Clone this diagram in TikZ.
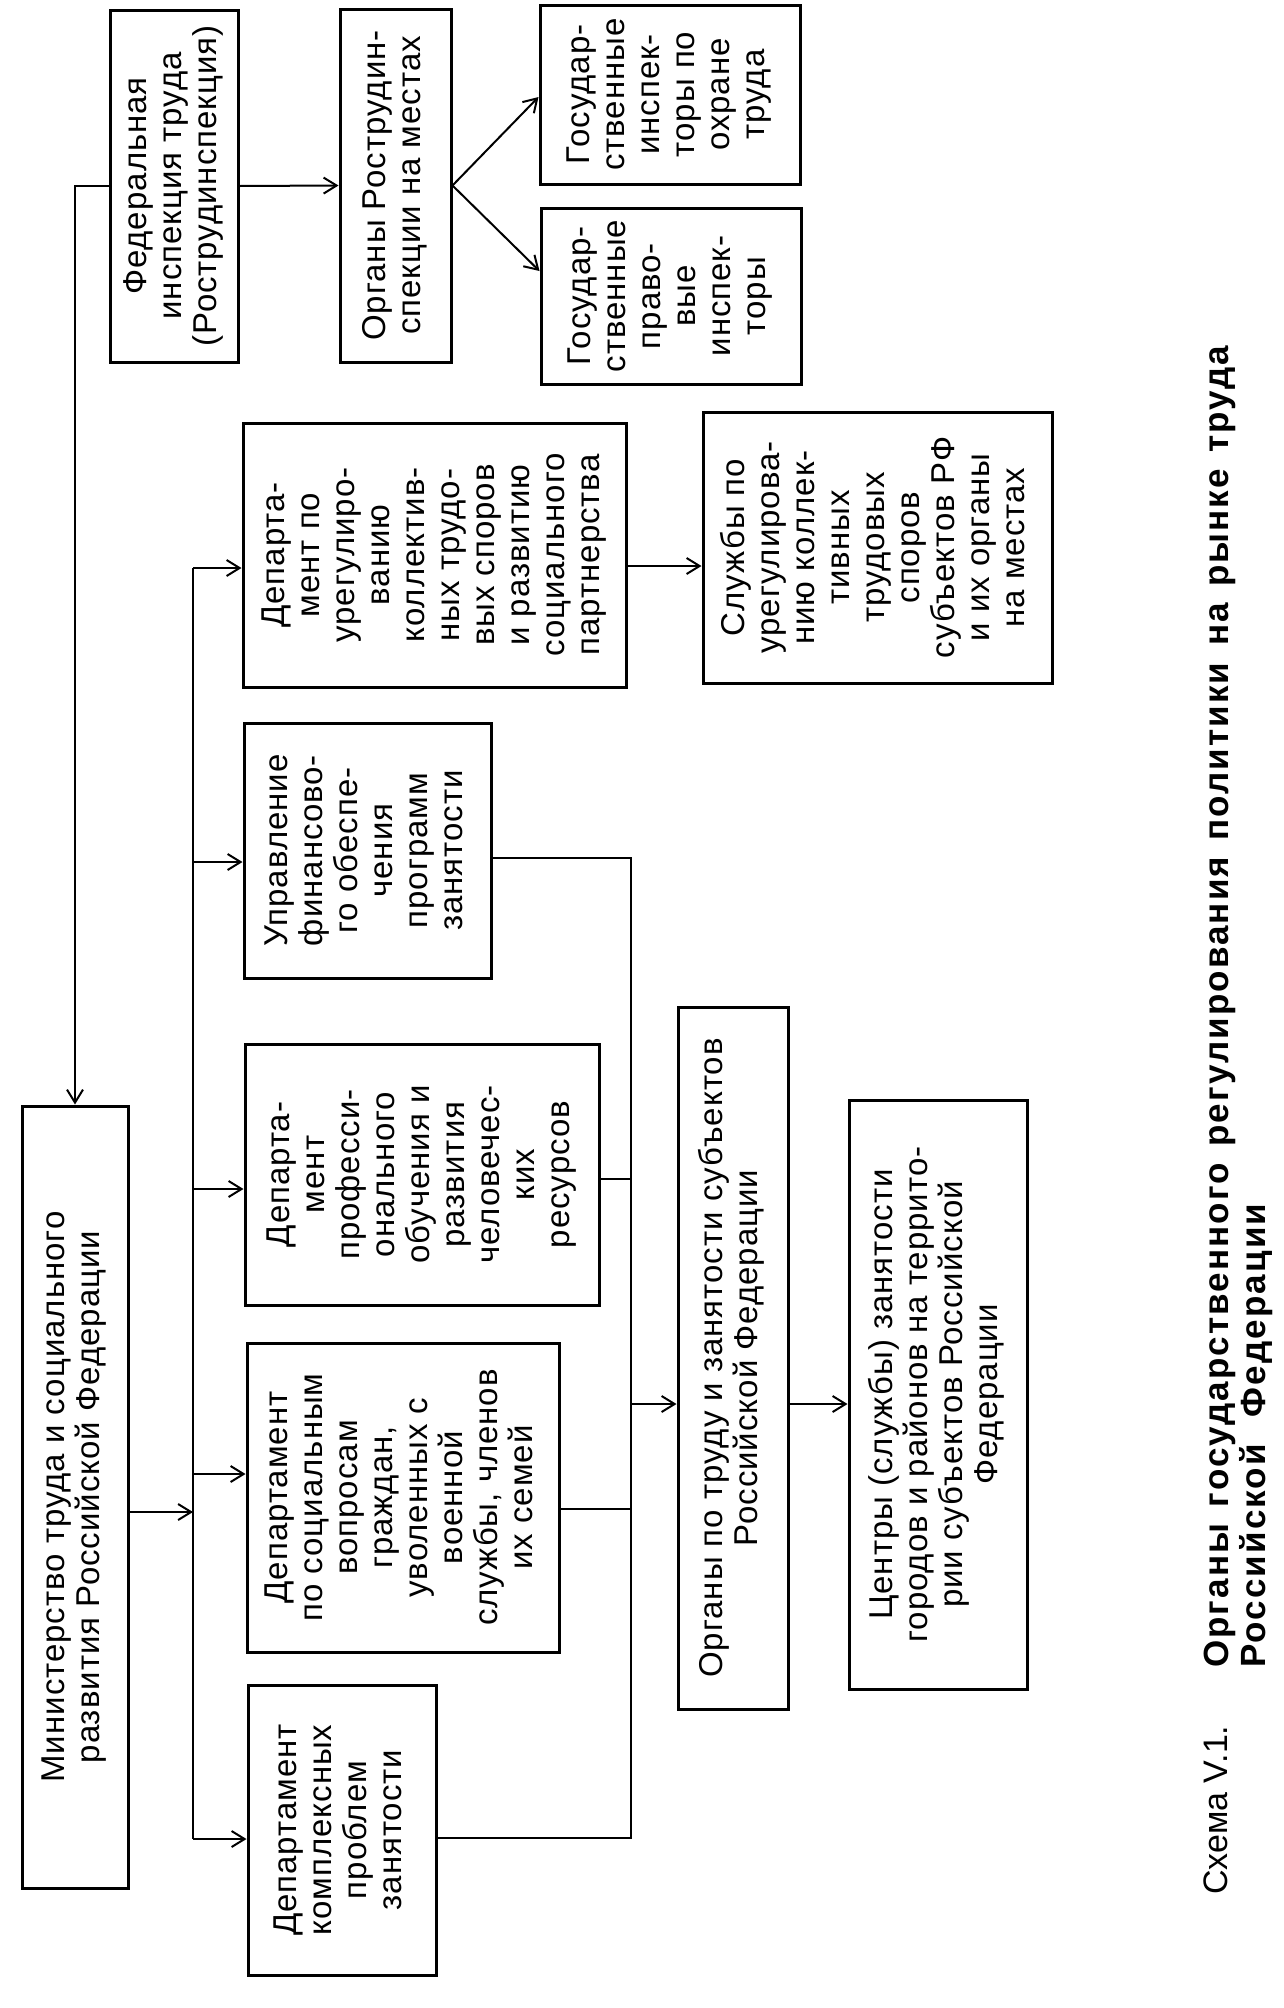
\documentclass[tikz,border=0pt]{standalone}
\usepackage{fontspec}
\setmainfont{Liberation Sans}
\usetikzlibrary{arrows.meta}
\newcommand{\rtxt}[1]{\rotatebox{90}{\begin{tabular}{@{}c@{}}#1\end{tabular}}}
\begin{document}
\begin{tikzpicture}[x=1pt,y=-1pt,
  box/.style={draw, line width=3pt, inner sep=0pt, font=\fontsize{33}{35}\selectfont\addfontfeatures{LetterSpace=3}},
  conn/.style={line width=2pt},
  arr/.style={conn, -{Straight Barb[length=13pt,width=16pt]}},
  ttl/.style={rotate=90, anchor=base west, inner sep=0pt},
  bold/.style={font=\bfseries\fontsize{35}{37}\selectfont\addfontfeatures{LetterSpace=6}}]
\useasboundingbox (0,0) rectangle (1284,2008);
\fill[white] (0,0) rectangle (1284,2008);
% top row
\node[box, minimum width=128pt, minimum height=352pt] (fed) at (174,186)
  {\rtxt{Федеральная\\инспекция труда\\(Рострудинспекция)}};
\node[box, minimum width=111pt, minimum height=353pt] (orgR) at (395.5,185.5)
  {\rtxt{Органы Рострудин-\\спекции на местах}};
\node[box, minimum width=260pt, minimum height=179pt] (inspT) at (670,94.5)
  {\rtxt{Государ-\\ственные\\инспек-\\торы по\\охране\\труда}};
\node[box, minimum width=260pt, minimum height=176pt] (inspP) at (671,296)
  {\rtxt{Государ-\\ственные\\право-\\вые\\инспек-\\торы}};
% ministry
\node[box, minimum width=106pt, minimum height=782pt] (min) at (75,1497)
  {\rtxt{Министерство труда и социального\\развития Российской Федерации}};
% departments
\node[box, minimum width=383pt, minimum height=264pt] (reg) at (434.5,555)
  {\rtxt{Департа-\\мент по\\урегулиро-\\ванию\\коллектив-\\ных трудо-\\вых споров\\и развитию\\социального\\партнерства}};
\node[box, minimum width=349pt, minimum height=271pt] (sl) at (877.5,547.5)
  {\rtxt{Службы по\\урегулирова-\\нию коллек-\\тивных\\трудовых\\споров\\субъектов РФ\\и их органы\\на местах}};
\node[box, minimum width=247pt, minimum height=255pt] (fin) at (367.5,850.5)
  {\rtxt{Управление\\финансово-\\го обеспе-\\чения\\программ\\занятости}};
\node[box, minimum width=354pt, minimum height=261pt] (prof) at (422,1174.5)
  {\rtxt{Департа-\\мент\\професси-\\онального\\обучения и\\развития\\человечес-\\ких\\ресурсов}};
\node[box, minimum width=312pt, minimum height=309pt] (soc) at (403,1497.5)
  {\rtxt{Департамент\\по социальным\\вопросам\\граждан,\\уволенных с\\военной\\службы, членов\\их семей}};
\node[box, minimum width=188pt, minimum height=290pt] (cmp) at (342,1830)
  {\rtxt{Департамент\\комплексных\\проблем\\занятости}};
\node[box, minimum width=110pt, minimum height=702pt] (pt) at (733,1358)
  {\rtxt{Органы по труду и занятости субъектов\\Российской Федерации}};
\node[box, minimum width=178pt, minimum height=589pt] (cz) at (938,1394.5)
  {\rtxt{Центры (службы) занятости\\городов и районов на террито-\\рии субъектов Российской\\Федерации}};
% connectors top
\draw[arr] (fed.east) -- (orgR.west);
\draw[arr] (orgR.east) -- (inspT.west |- 0,97);
\draw[arr] (orgR.east) -- (inspP.west |- 0,271);
\draw[arr] (fed.west) -| (min.north);
% left bus
\coordinate (bT) at (193,568);
\coordinate (bB) at (193,1839);
\draw[conn] (bT) -- (bB);
\draw[arr] (min.east |- 0,1512) -- (bT |- 0,1512);
\draw[arr] (bT) -- (reg.west |- bT);
\draw[arr] (bT |- 0,862) -- (fin.west |- 0,862);
\draw[arr] (bT |- 0,1189) -- (prof.west |- 0,1189);
\draw[arr] (bT |- 0,1474) -- (soc.west |- 0,1474);
\draw[arr] (bB) -- (cmp.west |- bB);
% right bus
\coordinate (rT) at (631,858);
\coordinate (rB) at (631,1838);
\draw[conn] (fin.east |- rT) -- (rT) -- (rB) -- (cmp.east |- rB);
\draw[conn] (prof.east |- 0,1179) -- (rT |- 0,1179);
\draw[conn] (soc.east |- 0,1509) -- (rT |- 0,1509);
\draw[arr] (rT |- 0,1404) -- (pt.west |- 0,1404);
\draw[arr] (pt.east |- 0,1404) -- (cz.west |- 0,1404);
\draw[arr] (reg.east |- 0,566) -- (sl.west |- 0,566);
% caption
\node[ttl, font=\fontsize{34}{36}\selectfont] (cap) at (1227,1895) {Схема V.1.};
\node[ttl, bold] (t1) at (1228,1668)
  {\makebox[1322pt][s]{Органы государственного регулирования политики на рынке труда}};
\node[ttl, bold] (t2) at (1265,1668)
  {\makebox[464pt][s]{Российской Федерации}};
\end{tikzpicture}
\end{document}
